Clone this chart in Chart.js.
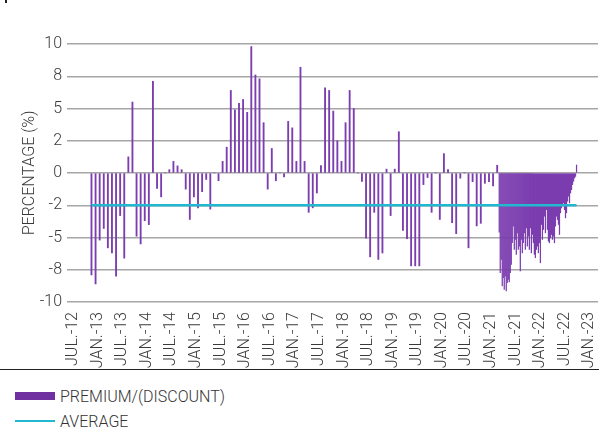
<!DOCTYPE html>
<html>
<head>
<meta charset="utf-8">
<script src="https://cdn.jsdelivr.net/npm/chart.js@4.4.1/dist/chart.umd.min.js"></script>
<style>
  html, body { margin: 0; padding: 0; background: #fff; }
  #wrap { position: relative; width: 599px; height: 432px; font-family: Roboto, 'Liberation Sans', sans-serif; font-weight: 300; color: #333; }
  #box { position: absolute; left: 0; top: 0; width: 599px; height: 370px; }
  #sep { position: absolute; left: 0; top: 369px; width: 599px; border-top: 1.5px solid #222; }
  #nick { position: absolute; left: 5px; top: 0; width: 1.5px; height: 3px; background: #222; }
  .leg { position: absolute; left: 15px; height: 20px; display: flex; align-items: center; font-size: 16px; }
  .sw { width: 40px; margin-right: 5px; }
</style>
</head>
<body>
<div id="wrap">
  <div id="nick"></div>
  <div id="box"><canvas id="chart"></canvas></div>
  <div id="sep"></div>
  <div class="leg" style="top:386px"><span class="sw" style="height:8px;background:#7030a0"></span>PREMIUM/(DISCOUNT)</div>
  <div class="leg" style="top:411px"><span class="sw" style="height:2px;background:#22b8cf"></span>AVERAGE</div>
</div>
<script>
// === DATA ===
// x axis: months since JUL.-12, a label every 6 months
const X_TICK_LABELS = ['JUL.-12','JAN.-13','JUL.-13','JAN.-14','JUL.-14','JAN.-15','JUL.-15','JAN.-16',
  'JUL.-16','JAN.-17','JUL.-17','JAN.-18','JUL.-18','JAN.-19','JUL.-19','JAN.-20','JUL.-20','JAN.-21',
  'JUL.-21','JAN.-22','JUL.-22','JAN.-23'];
const Y_TICK_LABELS = ['-10','-8','-5','-2','0','2','5','8','10']; // ticks every 2.5, labels as printed

// monthly premium/(discount), %, from NOV.-12 to FEB.-21
const MONTHLY_START = 4.5;
const MONTHLY = [
  -7.9, -8.6, -5.2, -4.3, -5.8, -6.2, -8.0, -3.3, -6.6, 1.25,
  5.5, -4.9, -5.5, -3.7, -4.0, 7.1, -1.2, -1.85, 0, 0.26,
  0.9, 0.55, 0.26, -1.25, -3.6, -1.85, -2.7, -1.45, -0.5, -2.8,
  0, -0.6, 0.9, 2.0, 6.4, 4.9, 5.4, 5.7, 4.7, 9.8,
  7.6, 7.3, 3.9, -1.25, 1.9, -0.6, 0, -0.3, 4.0, 3.5,
  0.9, 8.2, 0.9, -3.05, -2.7, -1.55, 0.57, 6.6, 6.4, 4.8,
  2.5, 0.9, 3.9, 6.4, 5.0, 0, -0.65, -5.05, -6.5, -3.05,
  -6.7, -6.2, 0.3, -3.3, 0.3, 3.2, -4.45, -5.1, -7.2, -7.2,
  -7.2, -0.9, -0.35, -3.05, 0, -3.6, 1.5, 0.26, -3.85, -4.7,
  -0.4, 0, -5.8, -0.67, -4.1, -3.9, -0.8, -0.67, -1.0, 0.6
];

// weekly premium/(discount), %, from MAR.-21 to OCT.-22
const WEEKLY_START = 104.0;
const WEEKLY_STEP = 0.245;
const WEEKLY = [
  -4.59, -7.73, -6.70, -8.76, -8.12, -9.02, -7.99, -9.15, -8.51, -8.25,
  -8.45, -7.73, -7.09, -5.41, -4.12, -5.93, -5.15, -6.31, -4.64, -5.93,
  -5.67, -7.60, -5.15, -6.19, -5.41, -4.64, -5.93, -4.25, -5.67, -4.90,
  -5.93, -4.25, -6.19, -4.77, -5.41, -6.31, -6.57, -5.93, -5.67, -6.19,
  -5.41, -6.96, -3.99, -5.15, -4.38, -3.35, -4.64, -2.84, -4.38, -5.28,
  -5.41, -5.03, -4.77, -5.15, -4.90, -5.41, -4.12, -3.35, -3.61, -3.99,
  -4.77, -3.09, -2.71, -2.45, -2.32, -2.84, -3.48, -3.09, -2.19, -1.80,
  -2.32, -1.55, -1.29, -0.90, -0.64, -0.39, -0.26, 0.62
];

const AVERAGE = -2.5;

// === COLORS ===
const BAR   = '#7b3daf';
const AVG   = '#22b8cf';
const GRID  = '#a6a6a6';
const TEXT  = '#3a3a3a';
const FONT  = { family: "Roboto, 'Liberation Sans', sans-serif", size: 16, weight: 300 };

// === BUILD ===
const monthlyPts = MONTHLY.map((v, i) => ({ x: MONTHLY_START + i, y: v }));
const weeklyPts  = WEEKLY.map((v, i) => ({ x: WEEKLY_START + i * WEEKLY_STEP, y: v }));
const lastX = WEEKLY_START + (WEEKLY.length - 1) * WEEKLY_STEP;
const avgLine = [{ x: MONTHLY_START, y: AVERAGE }, { x: lastX, y: AVERAGE }];

new Chart(document.getElementById('chart'), {
  type: 'bar',
  data: {
    datasets: [
      {
        type: 'line',
        label: 'AVERAGE',
        data: avgLine,
        borderColor: AVG,
        borderWidth: 2.5,
        pointRadius: 0,
        fill: false
      },
      {
        label: 'PREMIUM/(DISCOUNT)',
        data: monthlyPts,
        backgroundColor: BAR,
        borderWidth: 0,
        barThickness: 1.2,
        grouped: false
      },
      {
        label: 'PREMIUM/(DISCOUNT) weekly',
        data: weeklyPts,
        backgroundColor: BAR,
        borderWidth: 0,
        barThickness: 0.6,
        grouped: false
      }
    ]
  },
  options: {
    responsive: true,
    maintainAspectRatio: false,
    animation: false,
    events: [],
    layout: { padding: { top: 44, right: 1, left: 0, bottom: 0 } },
    plugins: { legend: { display: false }, tooltip: { enabled: false } },
    scales: {
      x: {
        type: 'linear',
        offset: false,
        min: -1.47,
        max: 128.1,
        afterFit(s){
          s.height = 68;
          // rotated labels fit inside, no extra side padding
          s.paddingLeft = 0;
          s.paddingRight = 0;
        },
        afterBuildTicks(s){ s.ticks = X_TICK_LABELS.map((_, i) => ({ value: i * 6 })); },
        ticks: {
          autoSkip: false,
          minRotation: 90,
          maxRotation: 90,
          padding: 2,
          color: TEXT,
          font: FONT,
          callback: (v, i) => X_TICK_LABELS[i]
        },
        grid: { display: false },
        border: { display: false }
      },
      y: {
        min: -10,
        max: 10,
        afterFit(s){ s.width = 67; },
        ticks: {
          stepSize: 2.5,
          padding: 5,
          color: TEXT,
          font: FONT,
          callback: (v, i) => Y_TICK_LABELS[i]
        },
        grid: { color: GRID, lineWidth: 1.4, drawTicks: false },
        border: { display: false },
        title: {
          display: true,
          text: 'PERCENTAGE (%)',
          color: TEXT,
          font: FONT,
          padding: { top: 20, bottom: 0 }
        }
      }
    }
  }
});
</script>
</body>
</html>
